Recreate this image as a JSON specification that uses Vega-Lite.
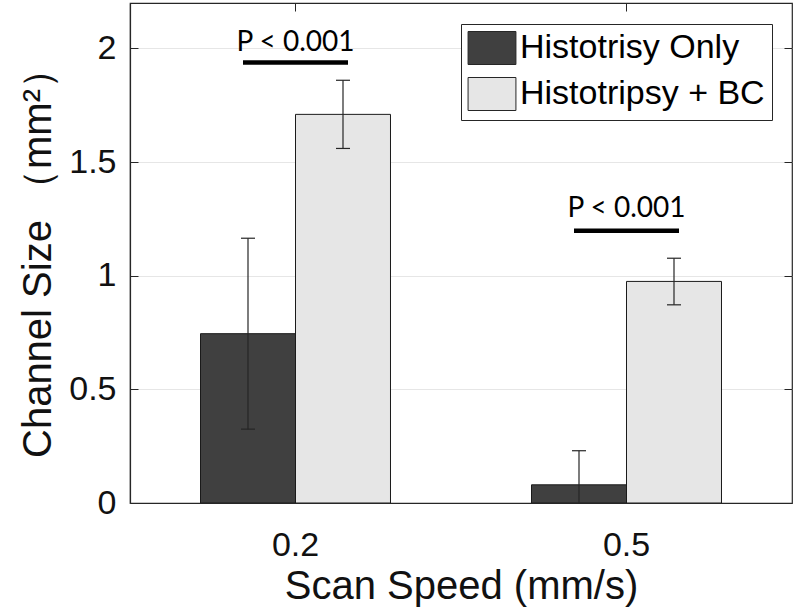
{
  "$schema": "https://vega.github.io/schema/vega-lite/v6.json",
  "width": 662,
  "height": 500,
  "autosize": {"type": "none"},
  "padding": {"left": 130, "top": 3, "right": 8, "bottom": 113},
  "background": "white",
  "datasets": {
    "bars": [
      {"speed": "0.2", "group": "Histotrisy Only", "mean": 0.745, "lo": 0.325, "hi": 1.165},
      {"speed": "0.2", "group": "Histotripsy + BC", "mean": 1.71, "lo": 1.56, "hi": 1.86},
      {"speed": "0.5", "group": "Histotrisy Only", "mean": 0.08, "lo": -0.07, "hi": 0.23},
      {"speed": "0.5", "group": "Histotripsy + BC", "mean": 0.975, "lo": 0.872, "hi": 1.077}
    ],
    "sig": [
      {"speed": "0.2", "label": "P < 0.001", "ybar": 1.938, "ytext": 2.026},
      {"speed": "0.5", "label": "P < 0.001", "ybar": 1.198, "ytext": 1.293}
    ]
  },
  "config": {
    "view": {"stroke": "#262626", "strokeWidth": 1.2},
    "axis": {
      "labelFont": "Liberation Sans",
      "titleFont": "Liberation Sans",
      "labelFontSize": 34,
      "titleFontSize": 40,
      "titleFontWeight": "normal",
      "labelColor": "#111111",
      "titleColor": "#111111",
      "domainColor": "#262626",
      "tickColor": "#262626",
      "domainWidth": 1.2
    }
  },
  "encoding": {
    "x": {
      "field": "speed",
      "type": "nominal",
      "scale": {"type": "band", "paddingInner": 0.426, "paddingOuter": 0.213},
      "axis": null
    },
    "y": {
      "type": "quantitative",
      "scale": {"domain": [0, 2.2], "nice": false, "zero": false},
      "axis": null
    }
  },
  "resolve": {"axis": {"x": "independent", "y": "independent"}},
  "layer": [
    {
      "data": {"name": "bars"},
      "mark": {"type": "bar", "stroke": "#1a1a1a", "strokeWidth": 1, "clip": true},
      "encoding": {
        "x": {
          "field": "speed",
          "type": "nominal",
          "scale": {"type": "band", "paddingInner": 0.426, "paddingOuter": 0.213},
          "axis": {
            "title": "Scan Speed (mm/s)",
            "labelAngle": 0,
            "tickSize": -8,
            "labelPadding": 33,
            "titlePadding": 4,
            "domainColor": "#262626"
          }
        },
        "xOffset": {"field": "group", "type": "nominal", "sort": ["Histotrisy Only", "Histotripsy + BC"], "scale": {"paddingInner": 0, "paddingOuter": 0}},
        "y": {
          "field": "mean",
          "type": "quantitative",
          "scale": {"domain": [0, 2.2], "nice": false, "zero": false},
          "axis": {
            "title": "Channel Size （mm²）",
            "values": [0, 0.5, 1, 1.5, 2],
            "format": "~g",
            "tickSize": -8,
            "labelPadding": 22,
            "titlePadding": 10,
            "grid": true,
            "gridColor": "#e6e6e6",
            "gridWidth": 1
          }
        },
        "color": {
          "field": "group",
          "type": "nominal",
          "scale": {"domain": ["Histotrisy Only", "Histotripsy + BC"], "range": ["#404040", "#e6e6e6"]},
          "legend": {
            "title": null,
            "orient": "none",
            "legendX": 331,
            "legendY": 21,
            "padding": 7,
            "strokeColor": "#262626",
            "fillColor": "white",
            "symbolType": "M-1.45,-1H1.45V1H-1.45Z",
            "symbolSize": 1089,
            "symbolStrokeColor": "#262626",
            "symbolStrokeWidth": 1,
            "symbolOpacity": 1,
            "symbolOffset": 7,
            "labelOffset": 11,
            "labelFont": "Liberation Sans",
            "labelFontSize": 34,
            "labelColor": "#000000",
            "rowPadding": 8,
            "labelLimit": 400
          }
        }
      }
    },
    {
      "data": {"name": "bars"},
      "mark": {"type": "rule", "color": "#262626", "strokeWidth": 1.2, "clip": true},
      "encoding": {
        "x": {
          "field": "speed",
          "type": "nominal",
          "scale": {"type": "band", "paddingInner": 0.426, "paddingOuter": 0.213},
          "axis": {"orient": "top", "labels": false, "title": null, "domain": false, "tickSize": -8, "grid": false}
        },
        "xOffset": {"field": "group", "type": "nominal", "sort": ["Histotrisy Only", "Histotripsy + BC"], "scale": {"paddingInner": 0, "paddingOuter": 0}},
        "y": {
          "field": "lo",
          "type": "quantitative",
          "scale": {"domain": [0, 2.2], "nice": false, "zero": false},
          "axis": {"orient": "right", "labels": false, "title": null, "domain": false, "tickSize": -8, "grid": false, "values": [0, 0.5, 1, 1.5, 2]}
        },
        "y2": {"field": "hi"}
      }
    },
    {
      "data": {"name": "bars"},
      "mark": {"type": "tick", "color": "#262626", "thickness": 1.2, "size": 14, "opacity": 1, "clip": true},
      "encoding": {
        "xOffset": {"field": "group", "type": "nominal", "sort": ["Histotrisy Only", "Histotripsy + BC"], "scale": {"paddingInner": 0, "paddingOuter": 0}},
        "y": {"field": "hi", "type": "quantitative"}
      }
    },
    {
      "data": {"name": "bars"},
      "mark": {"type": "tick", "color": "#262626", "thickness": 1.2, "size": 14, "opacity": 1, "clip": true},
      "encoding": {
        "xOffset": {"field": "group", "type": "nominal", "sort": ["Histotrisy Only", "Histotripsy + BC"], "scale": {"paddingInner": 0, "paddingOuter": 0}},
        "y": {"field": "lo", "type": "quantitative"}
      }
    },
    {
      "data": {"name": "sig"},
      "mark": {"type": "tick", "color": "#000000", "thickness": 4.5, "size": 105, "opacity": 1},
      "encoding": {
        "y": {"field": "ybar", "type": "quantitative"}
      }
    },
    {
      "data": {"name": "sig"},
      "mark": {"type": "text", "font": "Lato", "fontSize": 28, "color": "#000000", "baseline": "middle", "align": "center"},
      "encoding": {
        "y": {"field": "ytext", "type": "quantitative"},
        "text": {"field": "label"}
      }
    }
  ]
}
